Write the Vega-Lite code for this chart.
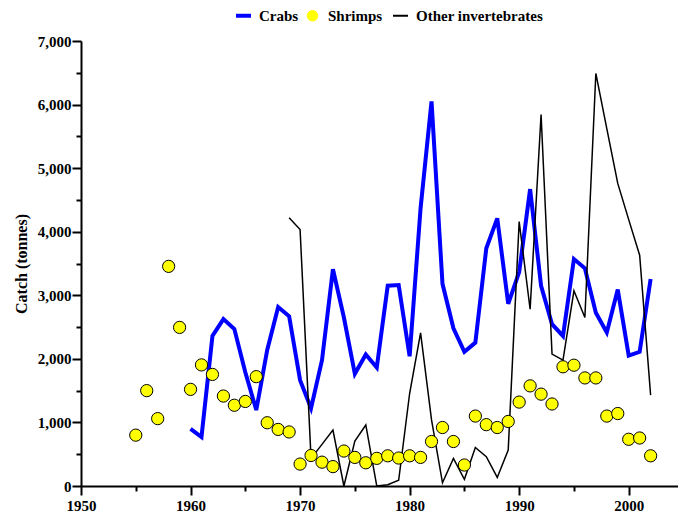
{
  "$schema": "https://vega.github.io/schema/vega-lite/v6.json",
  "width": 597,
  "height": 445,
  "autosize": {"type": "none"},
  "padding": {"left": 81, "top": 41, "right": 0, "bottom": 33},
  "background": "white",
  "config": {
    "view": {"stroke": null},
    "font": "'Liberation Serif', 'Times New Roman', 'DejaVu Serif', serif",
    "axis": {
      "labelFont": "'Liberation Serif', 'Times New Roman', 'DejaVu Serif', serif", "labelFontWeight": "bold", "labelFontSize": 15, "labelColor": "black",
      "titleFont": "'Liberation Serif', 'Times New Roman', 'DejaVu Serif', serif", "titleFontWeight": "bold", "titleFontSize": 16, "titleColor": "black",
      "domainColor": "black", "domainWidth": 2, "tickColor": "black", "tickWidth": 2, "grid": false
    },
    "legend": {"labelFont": "'Liberation Serif', 'Times New Roman', 'DejaVu Serif', serif"}
  },
  "data": {"values": [
    {"year": 1960, "series": "Crabs", "catch": 900},
    {"year": 1961, "series": "Crabs", "catch": 770},
    {"year": 1962, "series": "Crabs", "catch": 2360},
    {"year": 1963, "series": "Crabs", "catch": 2625},
    {"year": 1964, "series": "Crabs", "catch": 2470},
    {"year": 1965, "series": "Crabs", "catch": 1790},
    {"year": 1966, "series": "Crabs", "catch": 1195},
    {"year": 1967, "series": "Crabs", "catch": 2140},
    {"year": 1968, "series": "Crabs", "catch": 2815},
    {"year": 1969, "series": "Crabs", "catch": 2670},
    {"year": 1970, "series": "Crabs", "catch": 1665},
    {"year": 1971, "series": "Crabs", "catch": 1225},
    {"year": 1972, "series": "Crabs", "catch": 1980},
    {"year": 1973, "series": "Crabs", "catch": 3410},
    {"year": 1974, "series": "Crabs", "catch": 2650},
    {"year": 1975, "series": "Crabs", "catch": 1765},
    {"year": 1976, "series": "Crabs", "catch": 2070},
    {"year": 1977, "series": "Crabs", "catch": 1865},
    {"year": 1978, "series": "Crabs", "catch": 3150},
    {"year": 1979, "series": "Crabs", "catch": 3160},
    {"year": 1980, "series": "Crabs", "catch": 2040},
    {"year": 1981, "series": "Crabs", "catch": 4370},
    {"year": 1982, "series": "Crabs", "catch": 6050},
    {"year": 1983, "series": "Crabs", "catch": 3180},
    {"year": 1984, "series": "Crabs", "catch": 2480},
    {"year": 1985, "series": "Crabs", "catch": 2110},
    {"year": 1986, "series": "Crabs", "catch": 2255},
    {"year": 1987, "series": "Crabs", "catch": 3740},
    {"year": 1988, "series": "Crabs", "catch": 4210},
    {"year": 1989, "series": "Crabs", "catch": 2865},
    {"year": 1990, "series": "Crabs", "catch": 3365},
    {"year": 1991, "series": "Crabs", "catch": 4670},
    {"year": 1992, "series": "Crabs", "catch": 3150},
    {"year": 1993, "series": "Crabs", "catch": 2545},
    {"year": 1994, "series": "Crabs", "catch": 2360},
    {"year": 1995, "series": "Crabs", "catch": 3570},
    {"year": 1996, "series": "Crabs", "catch": 3425},
    {"year": 1997, "series": "Crabs", "catch": 2725},
    {"year": 1998, "series": "Crabs", "catch": 2415},
    {"year": 1999, "series": "Crabs", "catch": 3090},
    {"year": 2000, "series": "Crabs", "catch": 2050},
    {"year": 2001, "series": "Crabs", "catch": 2110},
    {"year": 2002, "series": "Crabs", "catch": 3255},
    {"year": 1969, "series": "Other invertebrates", "catch": 4220},
    {"year": 1970, "series": "Other invertebrates", "catch": 4035},
    {"year": 1971, "series": "Other invertebrates", "catch": 435},
    {"year": 1972, "series": "Other invertebrates", "catch": 655},
    {"year": 1973, "series": "Other invertebrates", "catch": 880},
    {"year": 1974, "series": "Other invertebrates", "catch": 0},
    {"year": 1975, "series": "Other invertebrates", "catch": 705},
    {"year": 1976, "series": "Other invertebrates", "catch": 960},
    {"year": 1977, "series": "Other invertebrates", "catch": 0},
    {"year": 1978, "series": "Other invertebrates", "catch": 20},
    {"year": 1979, "series": "Other invertebrates", "catch": 90},
    {"year": 1980, "series": "Other invertebrates", "catch": 1455},
    {"year": 1981, "series": "Other invertebrates", "catch": 2410},
    {"year": 1982, "series": "Other invertebrates", "catch": 1040},
    {"year": 1983, "series": "Other invertebrates", "catch": 50},
    {"year": 1984, "series": "Other invertebrates", "catch": 435},
    {"year": 1985, "series": "Other invertebrates", "catch": 105},
    {"year": 1986, "series": "Other invertebrates", "catch": 605},
    {"year": 1987, "series": "Other invertebrates", "catch": 460},
    {"year": 1988, "series": "Other invertebrates", "catch": 135},
    {"year": 1989, "series": "Other invertebrates", "catch": 565},
    {"year": 1990, "series": "Other invertebrates", "catch": 4160},
    {"year": 1991, "series": "Other invertebrates", "catch": 2780},
    {"year": 1992, "series": "Other invertebrates", "catch": 5845},
    {"year": 1993, "series": "Other invertebrates", "catch": 2075},
    {"year": 1994, "series": "Other invertebrates", "catch": 1980},
    {"year": 1995, "series": "Other invertebrates", "catch": 3070},
    {"year": 1996, "series": "Other invertebrates", "catch": 2650},
    {"year": 1997, "series": "Other invertebrates", "catch": 6490},
    {"year": 1998, "series": "Other invertebrates", "catch": 5620},
    {"year": 1999, "series": "Other invertebrates", "catch": 4760},
    {"year": 2000, "series": "Other invertebrates", "catch": 4190},
    {"year": 2001, "series": "Other invertebrates", "catch": 3630},
    {"year": 2002, "series": "Other invertebrates", "catch": 1430},
    {"year": 1955, "series": "Shrimps", "catch": 800},
    {"year": 1956, "series": "Shrimps", "catch": 1500},
    {"year": 1957, "series": "Shrimps", "catch": 1060},
    {"year": 1958, "series": "Shrimps", "catch": 3455},
    {"year": 1959, "series": "Shrimps", "catch": 2495},
    {"year": 1960, "series": "Shrimps", "catch": 1520},
    {"year": 1961, "series": "Shrimps", "catch": 1905},
    {"year": 1962, "series": "Shrimps", "catch": 1755},
    {"year": 1963, "series": "Shrimps", "catch": 1415},
    {"year": 1964, "series": "Shrimps", "catch": 1270},
    {"year": 1965, "series": "Shrimps", "catch": 1330},
    {"year": 1966, "series": "Shrimps", "catch": 1720},
    {"year": 1967, "series": "Shrimps", "catch": 995},
    {"year": 1968, "series": "Shrimps", "catch": 890},
    {"year": 1969, "series": "Shrimps", "catch": 850},
    {"year": 1970, "series": "Shrimps", "catch": 345},
    {"year": 1971, "series": "Shrimps", "catch": 480},
    {"year": 1972, "series": "Shrimps", "catch": 375},
    {"year": 1973, "series": "Shrimps", "catch": 305},
    {"year": 1974, "series": "Shrimps", "catch": 550},
    {"year": 1975, "series": "Shrimps", "catch": 450},
    {"year": 1976, "series": "Shrimps", "catch": 365},
    {"year": 1977, "series": "Shrimps", "catch": 435},
    {"year": 1978, "series": "Shrimps", "catch": 475},
    {"year": 1979, "series": "Shrimps", "catch": 440},
    {"year": 1980, "series": "Shrimps", "catch": 475},
    {"year": 1981, "series": "Shrimps", "catch": 450},
    {"year": 1982, "series": "Shrimps", "catch": 700},
    {"year": 1983, "series": "Shrimps", "catch": 920},
    {"year": 1984, "series": "Shrimps", "catch": 700},
    {"year": 1985, "series": "Shrimps", "catch": 330},
    {"year": 1986, "series": "Shrimps", "catch": 1100},
    {"year": 1987, "series": "Shrimps", "catch": 965},
    {"year": 1988, "series": "Shrimps", "catch": 920},
    {"year": 1989, "series": "Shrimps", "catch": 1015},
    {"year": 1990, "series": "Shrimps", "catch": 1320},
    {"year": 1991, "series": "Shrimps", "catch": 1575},
    {"year": 1992, "series": "Shrimps", "catch": 1445},
    {"year": 1993, "series": "Shrimps", "catch": 1290},
    {"year": 1994, "series": "Shrimps", "catch": 1875},
    {"year": 1995, "series": "Shrimps", "catch": 1900},
    {"year": 1996, "series": "Shrimps", "catch": 1700},
    {"year": 1997, "series": "Shrimps", "catch": 1700},
    {"year": 1998, "series": "Shrimps", "catch": 1100},
    {"year": 1999, "series": "Shrimps", "catch": 1140},
    {"year": 2000, "series": "Shrimps", "catch": 735},
    {"year": 2001, "series": "Shrimps", "catch": 755},
    {"year": 2002, "series": "Shrimps", "catch": 475}
  ]},
  "encoding": {
    "x": {
      "field": "year", "type": "quantitative",
      "scale": {"domain": [1950, 2004.5], "nice": false, "zero": false},
      "axis": {
        "title": null,
        "values": [1950, 1955, 1960, 1965, 1970, 1975, 1980, 1985, 1990, 1995, 2000],
        "labelExpr": "datum.value % 10 === 0 ? datum.value + '' : ''",
        "tickSize": {"condition": {"test": "datum.value % 10 === 0", "value": 9}, "value": 5},
        "labelPadding": 3,
        "labelFlush": false
      }
    },
    "y": {
      "field": "catch", "type": "quantitative",
      "scale": {"domain": [0, 7000], "nice": false},
      "axis": {
        "title": "Catch (tonnes)",
        "values": [0, 500, 1000, 1500, 2000, 2500, 3000, 3500, 4000, 4500, 5000, 5500, 6000, 6500, 7000],
        "labelExpr": "datum.value % 1000 === 0 ? format(datum.value, ',') : ''",
        "tickSize": {"condition": {"test": "datum.value % 1000 === 0", "value": 9}, "value": 5},
        "labelPadding": 1,
        "labelFlush": false,
        "titlePadding": 8
      }
    },
    "color": {
      "field": "series", "type": "nominal",
      "scale": {"domain": ["Crabs", "Shrimps", "Other invertebrates"], "range": ["#0000ff", "#ffff00", "#000000"]},
      "legend": {
        "title": null,
        "orient": "none",
        "legendX": 155,
        "legendY": -33,
        "direction": "horizontal",
        "labelFont": "'Liberation Serif', 'Times New Roman', 'DejaVu Serif', serif",
        "labelFontWeight": "bold",
        "labelFontSize": 15,
        "labelColor": "black",
        "symbolSize": 225,
        "labelOffset": 8,
        "columnPadding": 6,
        "encode": {
          "symbols": {
            "update": {
              "shape": {"signal": "datum.value === 'Shrimps' ? 'circle' : 'stroke'"},
              "fill": {"signal": "datum.value === 'Shrimps' ? '#ffff00' : 'transparent'"},
              "stroke": {"signal": "datum.value === 'Crabs' ? '#0000ff' : '#000000'"},
              "strokeWidth": {"signal": "datum.value === 'Crabs' ? 4 : (datum.value === 'Shrimps' ? 1 : 2)"},
              "size": {"signal": "datum.value === 'Shrimps' ? 110 : 225"},
              "opacity": {"value": 1}
            }
          }
        }
      }
    }
  },
  "layer": [
    {
      "transform": [{"filter": "datum.series === 'Crabs'"}],
      "mark": {"type": "line", "strokeWidth": 4, "strokeJoin": "miter"}
    },
    {
      "transform": [{"filter": "datum.series === 'Other invertebrates'"}],
      "mark": {"type": "line", "strokeWidth": 1.5}
    },
    {
      "transform": [{"filter": "datum.series === 'Shrimps'"}],
      "mark": {"type": "point", "filled": true, "size": 150, "stroke": "black", "strokeWidth": 1, "opacity": 1}
    }
  ]
}
